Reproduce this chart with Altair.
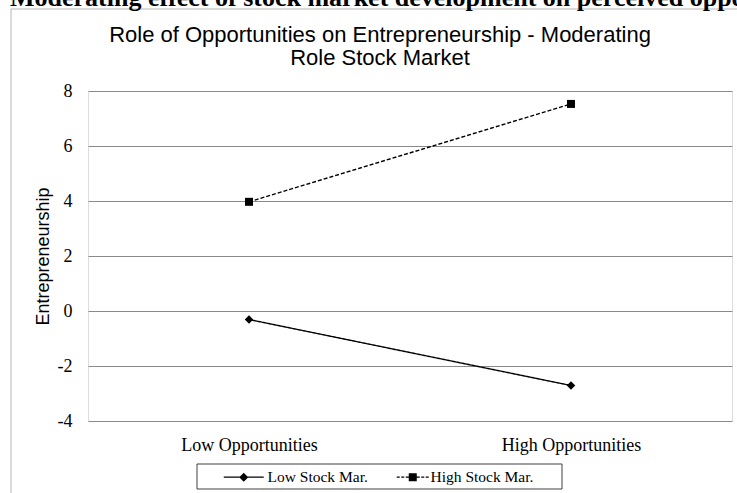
import altair as alt
import pandas as pd

# Values read for each moderation line
opportunities = ["Low Opportunities", "High Opportunities"]
series_names = ["Low Stock Mar.", "High Stock Mar."]
low_stock = [-0.31, -2.71]
high_stock = [3.97, 7.53]
y_ticks = [-4, -2, 0, 2, 4, 6, 8]

caption = "Moderating effect of stock market development on perceived opportunities"
title_lines = ["Role of Opportunities on Entrepreneurship - Moderating", "Role Stock Market"]

rows = []
for name, vals in zip(series_names, [low_stock, high_stock]):
    for opp, v in zip(opportunities, vals):
        rows.append({"Opportunities": opp, "Series": name, "Entrepreneurship": v})
df = pd.DataFrame(rows)

W, H = 644, 330
SERIF = "Liberation Serif"
SANS = "Liberation Sans"
GRID = "#8a8a8a"

# ---- legend glyphs (line + marker), built from filled pieces -------------
# symbol size 100 -> one path unit is 5 px
U = 5.0
HALF_T = 0.7  # half line thickness, px


def bar(x0, x1):
    a, b, t = x0 / U, x1 / U, HALF_T / U
    return f"M{a:.2f},{-t:.2f}H{b:.2f}V{t:.2f}H{a:.2f}Z"


def diamond(cx, r):
    c, q = cx / U, r / U
    return f"M{c:.2f},{-q:.2f}L{c + q:.2f},0L{c:.2f},{q:.2f}L{c - q:.2f},0Z"


def square(cx, r):
    c, q = cx / U, r / U
    return f"M{c - q:.2f},{-q:.2f}H{c + q:.2f}V{q:.2f}H{c - q:.2f}Z"


low_glyph = bar(-32, 8) + diamond(-12, 4.5)
high_glyph = (
    bar(-22, -19) + bar(-17.5, -14.5) + bar(-13, -10)
    + square(-6, 4)
    + bar(-2, 1) + bar(2.5, 5.5) + bar(7, 10)
)

dash_scale = alt.Scale(domain=series_names, range=[[1, 0], [4, 2]])


def series_legend():
    return alt.Legend(
        title=None,
        orient="none",
        legendX=160,
        legendY=378,
        direction="horizontal",
        columns=2,
        columnPadding=28,
        padding=0,
        labelFont=SERIF,
        labelFontSize=15.5,
        labelColor="black",
        labelOffset=4,
        symbolSize=100,
        symbolStrokeWidth=0,
        symbolFillColor="black",
        symbolOpacity=1,
    )


x_enc = alt.X(
    "Opportunities:N",
    sort=opportunities,
    scale=alt.Scale(type="point", padding=0.5),
    axis=alt.Axis(
        title=None, labelAngle=0, domain=False, ticks=False, grid=False,
        labelFont=SERIF, labelFontSize=18, labelColor="black", labelPadding=15,
    ),
)
y_enc = alt.Y(
    "Entrepreneurship:Q",
    scale=alt.Scale(domain=[-4, 8], nice=False, zero=False),
    axis=alt.Axis(
        values=y_ticks, grid=True, gridColor=GRID, gridWidth=1,
        domain=False, ticks=False,
        labelExpr="'' + datum.value",
        labelFont=SERIF, labelFontSize=18, labelColor="black", labelPadding=16,
        title="Entrepreneurship", titleFont=SANS, titleFontSize=18,
        titleFontWeight="normal", titleColor="black", titlePadding=5,
    ),
)

base = alt.Chart(df).encode(x=x_enc, y=y_enc)

lines = base.mark_line(color="black", strokeWidth=1.4).encode(
    strokeDash=alt.StrokeDash("Series:N", scale=dash_scale, legend=series_legend()),
    detail="Series:N",
)

low_pts = base.transform_filter(
    alt.datum.Series == series_names[0]
).mark_point(shape="diamond", filled=True, color="black", opacity=1, size=72)

high_pts = base.transform_filter(
    alt.datum.Series == series_names[1]
).mark_point(shape="square", filled=True, color="black", opacity=1, size=64)

# legend-only layer: no rows survive the filter, the scales carry the entries
legend_layer = base.transform_filter("false").mark_point(
    filled=True, color="black", opacity=1
).encode(
    shape=alt.Shape(
        "Series:N",
        scale=alt.Scale(domain=series_names, range=[low_glyph, high_glyph]),
        legend=series_legend(),
    ),
    strokeDash=alt.StrokeDash("Series:N", scale=dash_scale, legend=series_legend()),
)

deco = pd.DataFrame({"k": [0]})

# outer chart-area frame
frame = alt.Chart(deco).mark_rect(
    fillOpacity=0, stroke="#b5b5b5", strokeWidth=1
).encode(
    x=alt.value(-77), x2=alt.value(W + 100),
    y=alt.value(-82), y2=alt.value(H + 120),
)

# legend box
legend_box = alt.Chart(deco).mark_rect(
    fillOpacity=0, stroke="#404040", strokeWidth=1
).encode(
    x=alt.value(109), x2=alt.value(474),
    y=alt.value(373), y2=alt.value(398),
)

# document caption running above the chart
cap = alt.Chart(deco).mark_text(
    text=caption, font=SERIF, fontSize=26, fontWeight="bold",
    align="left", baseline="alphabetic", color="black",
).encode(x=alt.value(-78), y=alt.value(-85))

# chart heading, two centred lines
heading = alt.Chart(deco).mark_text(
    text=title_lines, font=SANS, fontSize=22, lineHeight=23.5,
    align="center", baseline="alphabetic", color="black",
).encode(x=alt.value(292), y=alt.value(-49.3))

chart = alt.layer(
    frame, cap, heading, legend_box, lines, low_pts, high_pts, legend_layer
).properties(
    width=W,
    height=H,
    padding={"left": 88, "top": 91, "right": 5, "bottom": 72},
    autosize=alt.AutoSizeParams(type="none"),
).configure_view(
    stroke=GRID, strokeWidth=1
).configure(background="white")

chart.save("out.html", embed_options={"renderer": "svg", "actions": False})
